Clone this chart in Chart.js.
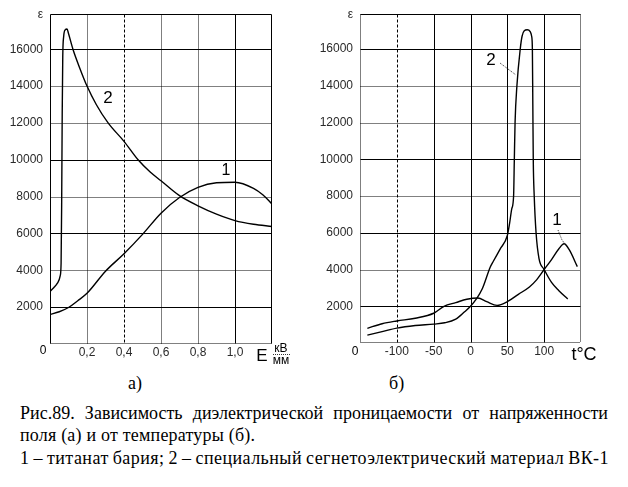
<!DOCTYPE html>
<html>
<head>
<meta charset="utf-8">
<script src="https://cdn.jsdelivr.net/npm/chart.js@4"></script>
<style>
  body { margin: 0; background: #fff; width: 628px; height: 487px; position: relative; overflow: hidden; }
  canvas { position: absolute; top: 0; }
  .cap { position: absolute; font-family: "Liberation Serif", "Times New Roman", serif; font-size: 18px; line-height: 21px; color: #000; white-space: nowrap; }
</style>
</head>
<body>
<canvas id="chartField" width="300" height="372" style="left:0"></canvas>
<canvas id="chartTemp" width="328" height="372" style="left:300px"></canvas>

<div class="cap" style="left:128px; top:373px;">а)</div>
<div class="cap" style="left:389px; top:373px;">б)</div>
<div class="cap fit" data-width="588" style="left:20px; top:403px;">Рис.89. Зависимость диэлектрической проницаемости от напряженности</div>
<div class="cap" style="left:20px; top:425px; letter-spacing:0.2px;">поля (а) и от температуры (б).</div>
<div class="cap fit" data-width="589" style="left:20px; top:448px; letter-spacing:0.45px;">1 – титанат бария; 2 – специальный сегнетоэлектрический материал ВК-1</div>

<script>
// ε axis (both panels)
const epsTicks = [0, 2000, 4000, 6000, 8000, 10000, 12000, 14000, 16000];
const epsMax = 17900;

// panel а) — field strength E, kV/mm
const fieldTicks = [0, 0.2, 0.4, 0.6, 0.8, 1.0, 1.2];
const fieldBaTiO3 = [0, 0.05, 0.1, 0.15, 0.2, 0.3, 0.4, 0.5, 0.6, 0.7, 0.8, 0.9, 1.0, 1.1, 1.15, 1.2];
const epsFieldBaTiO3 = [1600, 1750, 1980, 2350, 2750, 3950, 4900, 5950, 7100, 7950, 8500, 8750, 8780, 8450, 8100, 7600];
const fieldVK1 = [0, 0.02, 0.04, 0.055, 0.06, 0.063, 0.066, 0.069, 0.074, 0.082, 0.092, 0.1, 0.124, 0.16, 0.2, 0.25, 0.314, 0.4, 0.476, 0.54, 0.6, 0.7, 0.8, 0.9, 1.0, 1.1, 1.2];
const epsFieldVK1 = [2850, 3050, 3300, 3700, 4400, 7500, 12500, 15600, 16700, 17050, 17100, 16850, 16000, 15000, 14000, 13000, 12000, 11000, 10000, 9350, 8860, 8050, 7500, 7050, 6700, 6500, 6380];

// panel б) — temperature, °C
const tempTicks = [-150, -100, -50, 0, 50, 100, 150];
const tempBaTiO3 = [-140, -120, -100, -75, -50, -36, -20, -5, 10, 22, 36, 50, 65, 80, 90, 100, 110, 120, 127, 134, 145];
const epsTempBaTiO3 = [800, 1050, 1200, 1350, 1620, 2000, 2200, 2380, 2450, 2250, 2050, 2250, 2650, 3050, 3450, 4000, 4540, 5130, 5400, 5080, 4160];
const tempVK1 = [-140, -120, -100, -75, -50, -35, -20, -8, 0, 8, 16, 27, 31, 40, 50, 53, 56, 58.5, 59.5, 60.5, 63, 67.5, 70, 73, 77, 81, 83, 84, 84.6, 85.2, 86.5, 89, 93, 100, 110, 120, 132];
const epsTempVK1 = [430, 620, 810, 950, 1030, 1100, 1300, 1700, 2000, 2400, 2950, 4150, 4450, 5100, 5850, 6500, 7300, 8000, 10000, 12000, 14000, 16000, 16700, 17000, 17050, 16950, 16700, 16000, 13000, 10000, 8000, 6000, 4600, 4000, 3300, 2850, 2400];

const tickFont = { family: "'Liberation Sans', Arial, sans-serif", size: 12 };
const tickColor = '#2a2a2a';

// stretch caption lines to their printed width via word spacing (justified text)
document.querySelectorAll('.fit').forEach(el => {
    const target = Number(el.dataset.width);
    const spaces = (el.textContent.match(/ /g) || []).length;
    const natural = el.getBoundingClientRect().width;
    el.style.wordSpacing = ((target - natural) / spaces) + 'px';
});

function toPoints(xs, ys) {
    return xs.map((x, i) => ({ x: x, y: ys[i] }));
}

function lineDataset(xs, ys) {
    return {
        data: toPoints(xs, ys),
        borderColor: '#000',
        borderWidth: 1.4,
        pointRadius: 0,
        fill: false,
        cubicInterpolationMode: 'monotone'
    };
}

// line styles for grid and frame
function strokeStyled(ctx, style, x1, y1, x2, y2) {
    ctx.save();
    ctx.strokeStyle = '#000';
    ctx.lineWidth = 1;
    if (style === 'dotted') ctx.setLineDash([1, 1]);
    else if (style === 'dashed') ctx.setLineDash([3, 2]);
    else ctx.setLineDash([]);
    ctx.beginPath();
    ctx.moveTo(x1, y1);
    ctx.lineTo(x2, y2);
    ctx.stroke();
    ctx.restore();
}

const epsGridStyle = { 2000: 'solid', 4000: 'dotted', 6000: 'solid', 8000: 'dotted', 10000: 'solid', 12000: 'dotted', 14000: 'dotted', 16000: 'solid' };

function gridPlugin(xStyle, frame) {
    return {
        id: 'paperGrid',
        beforeDatasetsDraw(chart) {
            const ctx = chart.ctx;
            const a = chart.chartArea;
            const xs = chart.scales.x, ys = chart.scales.y;
            const L = Math.round(a.left) + 0.5, R = Math.round(a.right) - 0.5;
            const T = Math.round(a.top) + 0.5, B = Math.round(a.bottom) - 0.5;
            epsTicks.forEach(v => {
                if (!epsGridStyle[v]) return;
                const y = Math.round(ys.getPixelForValue(v)) + 0.5;
                strokeStyled(ctx, epsGridStyle[v], L, y, R, y);
            });
            xs.ticks.forEach(t => {
                const st = xStyle[t.value];
                if (!st) return;
                const x = Math.round(xs.getPixelForValue(t.value)) + 0.5;
                strokeStyled(ctx, st, x, T, x, B);
            });
            strokeStyled(ctx, frame.top, L, T, R, T);
            strokeStyled(ctx, frame.bottom, L, B, R, B);
            strokeStyled(ctx, frame.left, L, T, L, B);
            strokeStyled(ctx, frame.right, R, T, R, B);
        }
    };
}

function labelsPlugin(drawFn) {
    return { id: 'paperLabels', afterDraw(chart) { drawFn(chart.ctx, chart); } };
}

function text(ctx, s, x, y, size, align) {
    ctx.save();
    ctx.fillStyle = '#000';
    ctx.font = size + "px 'Liberation Sans', Arial, sans-serif";
    ctx.textAlign = align || 'center';
    ctx.textBaseline = 'middle';
    ctx.fillText(s, x, y);
    ctx.restore();
}

function leader(ctx, pts) {
    ctx.save();
    ctx.strokeStyle = '#333';
    ctx.lineWidth = 1;
    ctx.setLineDash([1, 1]);
    ctx.beginPath();
    pts.forEach((p, i) => i ? ctx.lineTo(p[0], p[1]) : ctx.moveTo(p[0], p[1]));
    ctx.stroke();
    ctx.restore();
}

function makeOptions(xMin, xMax, xTicks, xLabel, yWidth, padRight, xHeight) {
    return {
        responsive: false,
        animation: false,
        layout: { padding: { left: 0, top: 13, right: padRight, bottom: 0 } },
        plugins: { legend: { display: false }, tooltip: { enabled: false } },
        scales: {
            x: {
                type: 'linear', min: xMin, max: xMax,
                afterBuildTicks: s => { s.ticks = xTicks.map(v => ({ value: v })); },
                afterFit: s => { s.height = xHeight; },
                grid: { display: false, drawTicks: false },
                border: { display: false },
                ticks: {
                    font: tickFont, color: tickColor, padding: 1, maxRotation: 0, autoSkip: false,
                    callback: v => (v === xMin || v === xMax) ? '' : xLabel(v)
                }
            },
            y: {
                type: 'linear', min: 0, max: epsMax,
                afterBuildTicks: s => { s.ticks = epsTicks.map(v => ({ value: v })).concat([{ value: epsMax }]); },
                afterFit: s => { s.width = yWidth; },
                grid: { display: false, drawTicks: false },
                border: { display: false },
                ticks: {
                    font: tickFont, color: tickColor, padding: 7, autoSkip: false,
                    callback: v => v === epsMax ? 'ε' : (v === 0 ? '' : String(v))
                }
            }
        }
    };
}

// а) ε(E)
new Chart(document.getElementById('chartField'), {
    type: 'line',
    data: { datasets: [lineDataset(fieldBaTiO3, epsFieldBaTiO3), lineDataset(fieldVK1, epsFieldVK1)] },
    options: makeOptions(0, 1.2, fieldTicks, v => v.toFixed(1).replace('.', ','), 50, 28, 28),
    plugins: [
        gridPlugin({ 0.2: 'dotted', 0.4: 'dashed', 0.6: 'dotted', 0.8: 'dotted', 1: 'solid' },
                   { top: 'solid', bottom: 'dotted', left: 'solid', right: 'solid' }),
        labelsPlugin(ctx => {
            text(ctx, '0', 43, 351, 12);
            text(ctx, 'E', 262, 356, 17);
            text(ctx, 'кВ', 281, 349, 12);
            text(ctx, 'мм', 281, 361, 12);
            leader(ctx, [[273, 354.5], [291, 354.5]]);
            text(ctx, '1', 226, 171, 16);
            text(ctx, '2', 108, 98, 17);
        })
    ]
});

// б) ε(t)
new Chart(document.getElementById('chartTemp'), {
    type: 'line',
    data: { datasets: [lineDataset(tempBaTiO3, epsTempBaTiO3), lineDataset(tempVK1, epsTempVK1)] },
    options: makeOptions(-150, 150, tempTicks, v => String(v), 60, 47, 29),
    plugins: [
        gridPlugin({ '-100': 'dashed', '-50': 'solid', 0: 'solid', 50: 'solid', 100: 'solid' },
                   { top: 'solid', bottom: 'dotted', left: 'dotted', right: 'dotted' }),
        labelsPlugin(ctx => {
            text(ctx, '0', 55, 352, 12);
            text(ctx, 't°C', 284, 355, 18);
            text(ctx, '2', 191, 60, 17);
            leader(ctx, [[200, 63], [216, 75]]);
            text(ctx, '1', 257, 220, 17);
            leader(ctx, [[258, 230], [262, 240], [265, 244]]);
        })
    ]
});
</script>
</body>
</html>
